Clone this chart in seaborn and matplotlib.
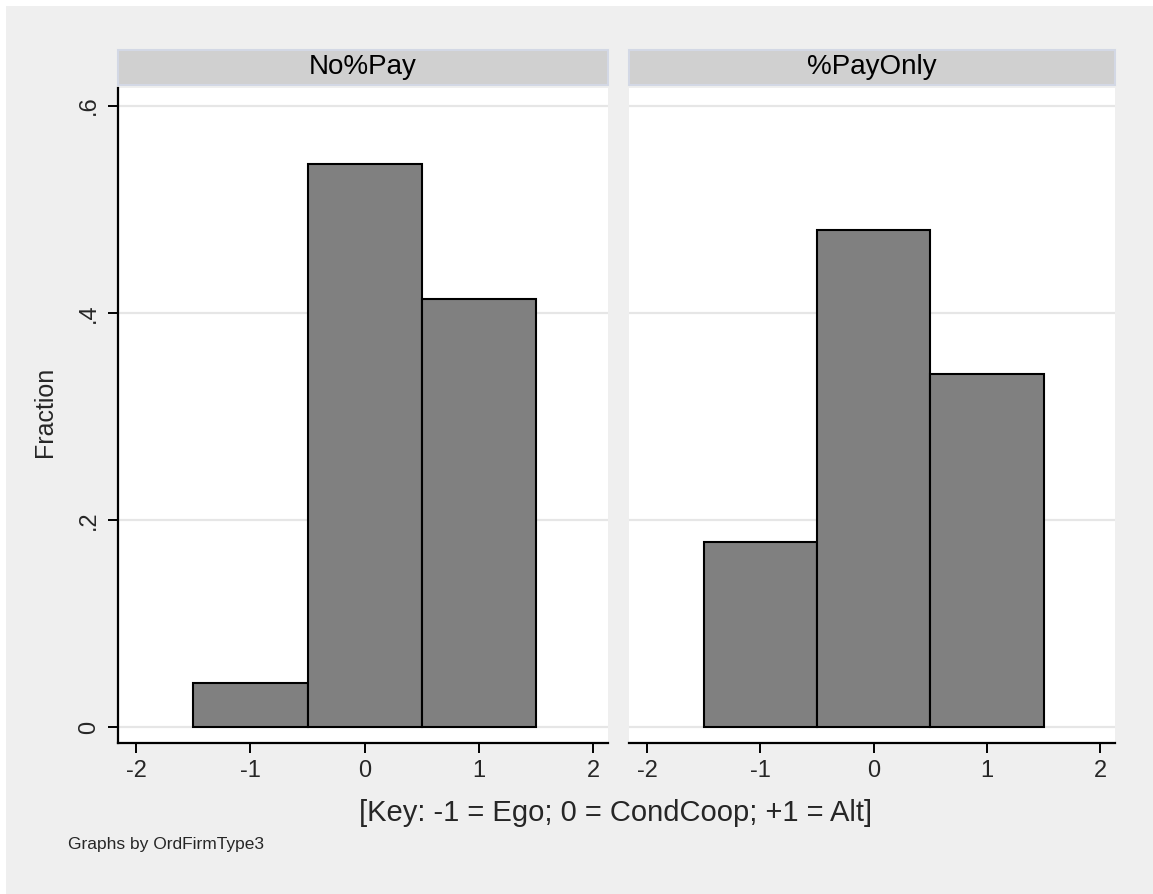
import pandas as pd
import matplotlib.pyplot as plt
import seaborn as sns
from matplotlib.patches import Rectangle

# Histogram fractions by firm type
panels = ['No%Pay', '%PayOnly']
types = [-1, 0, 1]
frac_nopay = [0.043, 0.544, 0.413]
frac_payonly = [0.179, 0.480, 0.341]
yticks = [0, 0.2, 0.4, 0.6]
yticklabels = ['0', '.2', '.4', '.6']
xticks = [-2, -1, 0, 1, 2]

df = pd.DataFrame({
    'group': [panels[0]] * 3 + [panels[1]] * 3,
    'type': types + types,
    'fraction': frac_nopay + frac_payonly,
})

sns.set_theme(style="white")
plt.rcParams['font.family'] = ['Liberation Sans', 'DejaVu Sans']

g = sns.FacetGrid(df, col='group', col_order=panels, sharey=True, sharex=True,
                  height=4, aspect=1)
g.map_dataframe(sns.histplot, x='type', weights='fraction', discrete=True,
                stat='count', color='#808080', alpha=1, edgecolor='black',
                linewidth=1.5)

fig = g.figure
fig.set_size_inches(11.53, 8.94)
fig.set_dpi(100)
fig.patch.set_facecolor('white')
# grey Stata-style background with a thin white margin top/left
fig.patches.append(Rectangle((6 / 1153, 0), 1, 1 - 6 / 894, transform=fig.transFigure,
                             facecolor='#efefef', edgecolor='none', zorder=-10))

W, H = 1153, 894
boxes = [(118, 608), (629, 1115)]
top, bottom = 88, 743
for i, (ax, name) in enumerate(zip(g.axes.flat, panels)):
    x0, x1 = boxes[i]
    ax.set_position([x0 / W, 1 - bottom / H, (x1 - x0) / W, (bottom - top) / H])
    ax.set_facecolor('white')
    ax.set_xlim(-2.16, 2.13)
    ax.set_ylim(-0.0154, 0.617)
    ax.set_title('')
    ax.set_xlabel('')
    ax.set_ylabel('')
    ax.set_axisbelow(True)
    for y in yticks:
        ax.axhline(y, color='#e6e6e6', lw=1.6, zorder=0)
    ax.set_xticks(xticks)
    ax.set_xticklabels([str(t) for t in xticks], fontsize=17)
    ax.tick_params(axis='x', direction='out', length=7, width=1.4, color='black',
                   bottom=True, pad=5)
    for s in ['top', 'right']:
        ax.spines[s].set_visible(False)
    ax.spines['bottom'].set_color('black')
    ax.spines['bottom'].set_linewidth(1.6)
    if i == 0:
        ax.set_yticks(yticks)
        ax.set_yticklabels(yticklabels, fontsize=17, rotation=90, va='center')
        ax.tick_params(axis='y', direction='out', length=7, width=1.4, color='black',
                       left=True, pad=6)
        ax.spines['left'].set_color('black')
        ax.spines['left'].set_linewidth(1.6)
    else:
        ax.spines['left'].set_visible(False)
        ax.tick_params(axis='y', left=False, labelleft=False)
    # strip header
    sh = (bottom - 85) / (bottom - top)
    st = (bottom - 50) / (bottom - top)
    ax.add_patch(Rectangle((0, sh), 1, st - sh, transform=ax.transAxes,
                           facecolor='#d0d0d0', edgecolor='#d3d8e5', lw=1.5,
                           clip_on=False))
    ax.text(0.5, (sh + st) / 2, name, transform=ax.transAxes, ha='center',
            va='center', fontsize=20, color='black')

fig.text(45 / W, 1 - 412 / H, 'Fraction', rotation=90, ha='center', va='center',
         fontsize=18)
fig.text(616 / W, 1 - 813 / H, '[Key: -1 = Ego; 0 = CondCoop; +1 = Alt]',
         ha='center', va='center', fontsize=21)
fig.text(68 / W, 1 - 845 / H, 'Graphs by OrdFirmType3', ha='left', va='center',
         fontsize=12.5)

fig.savefig('out.png', dpi=100)
